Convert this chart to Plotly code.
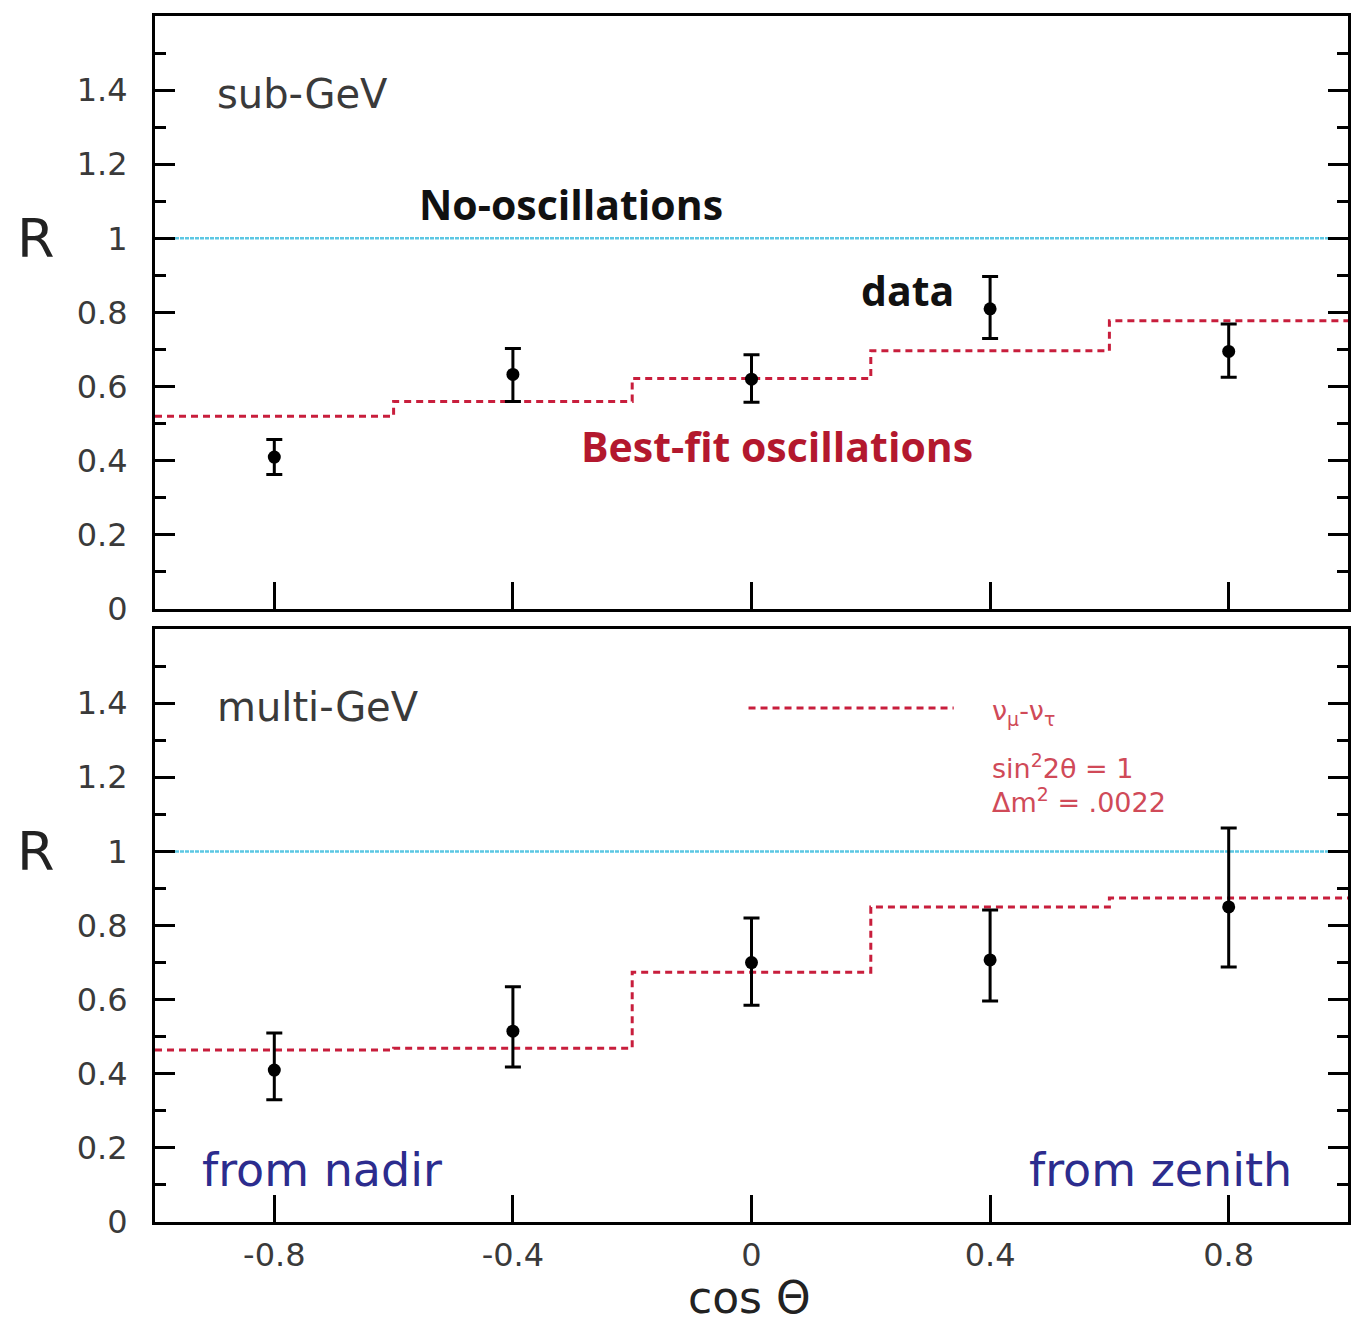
import plotly.graph_objects as go
from plotly.subplots import make_subplots

# cos(theta) bin centres and edges
cos_centres = [-0.8, -0.4, 0.0, 0.4, 0.8]
bin_edges = [-1.0, -0.6, -0.2, 0.2, 0.6, 1.0]

# sub-GeV ratio R (data / no-oscillation MC)
sub_r = [0.41, 0.633, 0.62, 0.81, 0.695]
sub_err_up = [0.047, 0.07, 0.066, 0.087, 0.074]
sub_err_dn = [0.047, 0.073, 0.062, 0.08, 0.07]
sub_fit = [0.52, 0.56, 0.622, 0.697, 0.778]

# multi-GeV ratio R
multi_r = [0.41, 0.515, 0.70, 0.707, 0.85]
multi_err_up = [0.10, 0.12, 0.12, 0.135, 0.213]
multi_err_dn = [0.08, 0.097, 0.115, 0.111, 0.162]
multi_fit = [0.464, 0.469, 0.674, 0.85, 0.874]

no_osc = [1.0, 1.0]
no_osc_x = [-1.0, 1.0]

x_ticks = [-0.8, -0.4, 0, 0.4, 0.8]
x_tick_text = ["-0.8", "-0.4", "0", "0.4", "0.8"]
y_ticks = [0, 0.2, 0.4, 0.6, 0.8, 1.0, 1.2, 1.4]
y_tick_text = ["0", "0.2", "0.4", "0.6", "0.8", "1", "1.2", "1.4"]

FIT_RED = "#c81e3c"
CYAN = "#5cc8e4"
NAVY = "#2c2c8e"
TXT = "#3a3a3a"

fig = make_subplots(rows=2, cols=1, vertical_spacing=0.0166, shared_xaxes=False)

for row, r, eu, ed, fit in [
    (1, sub_r, sub_err_up, sub_err_dn, sub_fit),
    (2, multi_r, multi_err_up, multi_err_dn, multi_fit),
]:
    fig.add_trace(go.Scatter(
        x=no_osc_x, y=no_osc, mode="lines",
        line=dict(color=CYAN, width=2.5, dash="4px,1px"), hoverinfo="skip"),
        row=row, col=1)
    fig.add_trace(go.Scatter(
        x=bin_edges, y=fit + [fit[-1]], mode="lines",
        line=dict(color=FIT_RED, width=3, dash="7px,5px", shape="hv")),
        row=row, col=1)
    fig.add_trace(go.Scatter(
        x=cos_centres, y=r, mode="markers",
        marker=dict(color="black", size=13),
        error_y=dict(type="data", symmetric=False, array=eu, arrayminus=ed,
                     color="black", thickness=3, width=8)),
        row=row, col=1)

# legend sample line for the oscillation hypothesis
fig.add_trace(go.Scatter(
    x=[-0.005, 0.339], y=[1.387, 1.387], mode="lines",
    line=dict(color=FIT_RED, width=3, dash="7px,5px")), row=2, col=1)

axis_font = dict(family="DejaVu Sans", size=32, color=TXT)
for row in (1, 2):
    fig.update_xaxes(
        range=[-1, 1], tickvals=x_ticks, ticktext=x_tick_text,
        showticklabels=(row == 2), ticks="inside", ticklen=27, tickwidth=3,
        tickcolor="black", showline=True, linewidth=3, linecolor="black",
        mirror=True, showgrid=False, zeroline=False, tickfont=axis_font,
        ticklabelstandoff=3, row=row, col=1)
    fig.update_yaxes(
        range=[0, 1.6], tickvals=y_ticks, ticktext=y_tick_text,
        ticks="inside", ticklen=20, tickwidth=3, tickcolor="black",
        minor=dict(dtick=0.1, tick0=0, ticks="inside", ticklen=11,
                   tickwidth=3, tickcolor="black"),
        showline=True, linewidth=3, linecolor="black", mirror="ticks",
        showgrid=False, zeroline=False, tickfont=axis_font,
        ticklabelstandoff=18, row=row, col=1)

ann = []

def label(text, x, y, xref, yref, size, color, family="DejaVu Sans",
          xanchor="center", bold=False):
    if bold:
        text = "<b>" + text + "</b>"
    ann.append(dict(text=text, x=x, y=y, xref=xref, yref=yref,
                    xanchor=xanchor, yanchor="middle", showarrow=False,
                    font=dict(family=family, size=size, color=color)))

# panel labels
label("sub-GeV", -0.9, 1.39, "x", "y", 40, TXT, xanchor="left")
label("multi-GeV", -0.9, 1.389, "x2", "y2", 40, TXT, xanchor="left")

# curve annotations in the upper panel
label("No-oscillations", -0.303, 1.094, "x", "y", 41, "#111111",
      family="Open Sans", bold=True)
label("data", 0.262, 0.862, "x", "y", 41, "#111111",
      family="Open Sans", bold=True)
label("Best-fit oscillations", 0.043, 0.439, "x", "y", 41, "#b3182e",
      family="Open Sans", bold=True)

# oscillation parameters
LEG = "#d04a58"
label("ν<sub>μ</sub>-ν<sub>τ</sub>", 0.40, 1.376, "x2", "y2", 27, LEG,
      xanchor="left")
label("sin<sup>2</sup>2θ = 1", 0.40, 1.23, "x2", "y2", 27, LEG,
      xanchor="left")
label("Δm<sup>2</sup> = .0022", 0.40, 1.136, "x2", "y2", 27, LEG,
      xanchor="left")

# direction labels
label("from nadir", -0.925, 0.14, "x2", "y2", 46, NAVY, xanchor="left")
ann.append(dict(text="from zenith", x=0.91, y=0.14, xref="x2", yref="y2",
                xanchor="right", yanchor="middle", showarrow=False,
                font=dict(family="DejaVu Sans", size=46, color=NAVY)))

# axis titles
label("R", -0.1, 1.0, "paper", "y", 54, "#222222")
label("R", -0.1, 1.0, "paper", "y2", 54, "#222222")
label("cos Θ", 0.4983, -0.0625, "paper", "paper", 44, "#222222")

fig.update_layout(
    width=1354, height=1325,
    margin=dict(l=155, r=3, t=16, b=103),
    paper_bgcolor="white", plot_bgcolor="white",
    showlegend=False, annotations=ann,
)

fig.write_html("out.html")
